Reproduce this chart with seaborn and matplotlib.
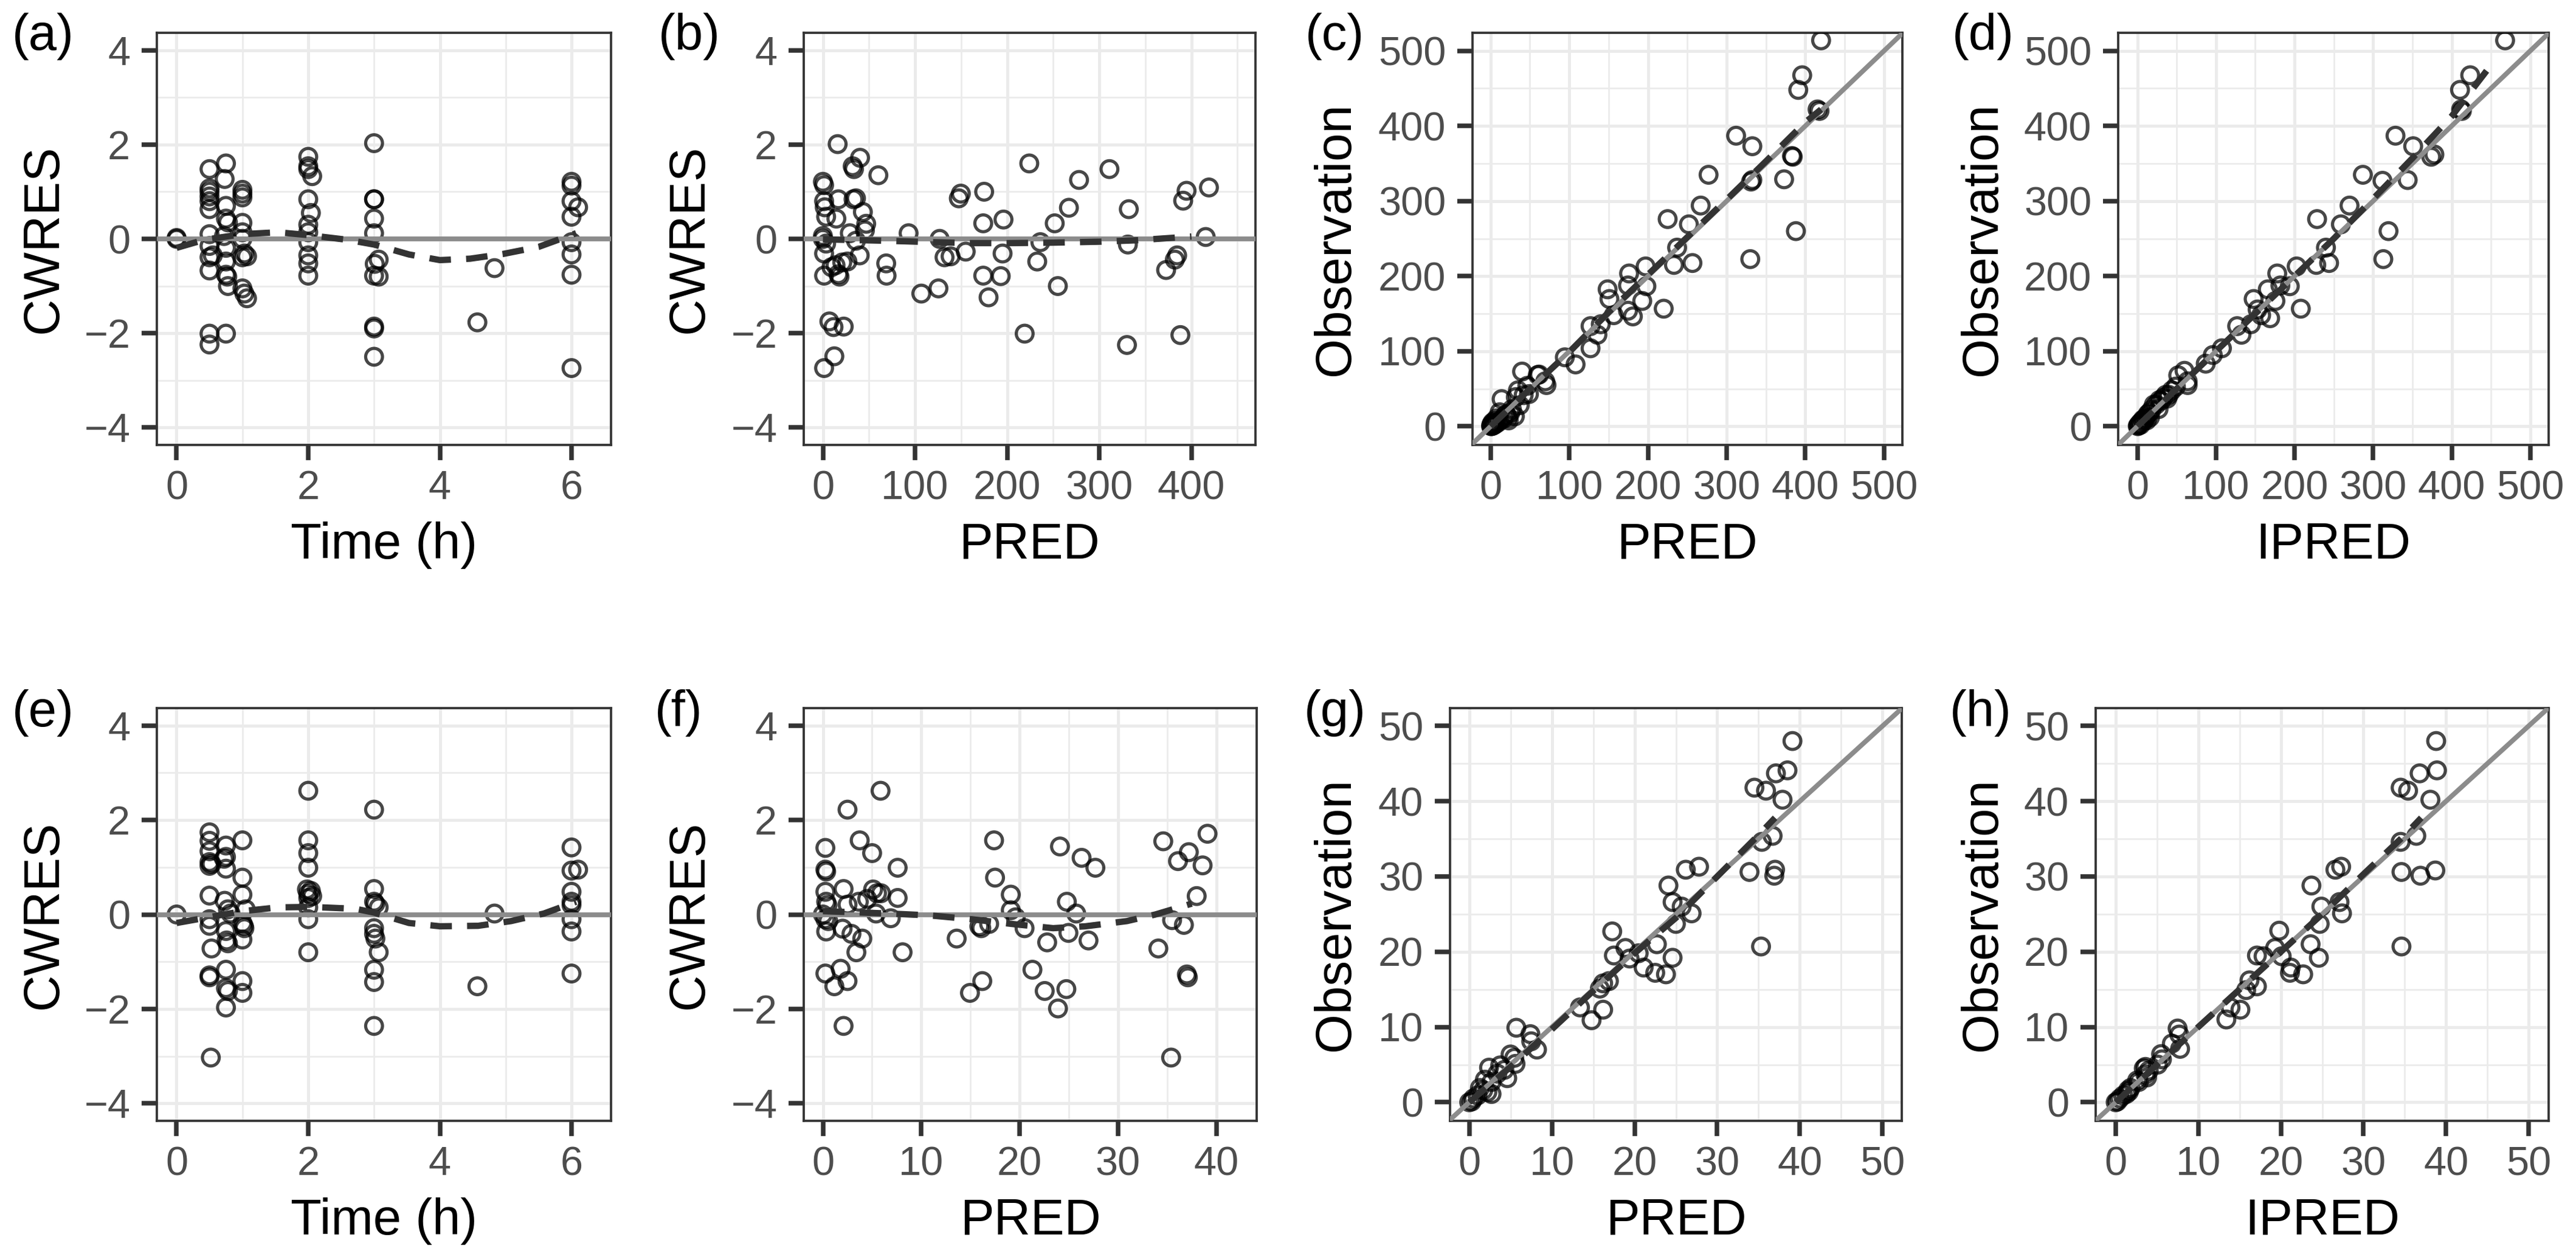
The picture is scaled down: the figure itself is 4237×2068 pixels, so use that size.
import matplotlib
matplotlib.use("Agg")
import matplotlib.pyplot as plt
import seaborn as sns

sns.set_theme(style="white")
plt.rcParams["font.family"] = ["Liberation Sans", "DejaVu Sans"]
plt.rcParams["axes.unicode_minus"] = True

# === DATA: first model (top row) ===
time_a = [0, 0,
          0.5, 0.5, 0.5, 0.5, 0.5, 0.5, 0.5, 0.5, 0.5, 0.55, 0.5, 0.5, 0.5,
          0.75, 0.73, 0.75, 0.75, 0.78, 0.72, 0.75, 0.75, 0.75, 0.77, 0.78, 0.75,
          1.0, 1.0, 1.0, 1.0, 1.0, 1.0, 1.03, 1.07, 1.0, 1.0, 1.03, 1.07,
          2.0, 2.0, 2.0, 2.06, 2.0, 2.04, 2.0, 2.0, 2.0, 2.0, 2.0, 2.0,
          3.0, 3.0, 3.0, 3.0, 3.0, 3.07, 3.01, 3.0, 3.07, 3.0, 3.0, 3.0,
          4.57, 4.83,
          6.0, 6.0, 6.0, 6.1, 6.0, 6.0, 6.0, 6.0, 6.0]
cwres_a = [0, 0.02,
           1.48, 1.07, 1.0, 0.9, 0.8, 0.63, 0.1, -0.15, -0.39, -0.35, -0.67, -2.01, -2.24,
           1.6, 1.27, 0.7, 0.43, 0.35, 0.06, -0.19, -0.48, -0.76, -0.8, -1.0, -2.01,
           1.04, 0.96, 0.88, 0.34, 0.14, 0.0, -0.31, -0.37, -0.39, -1.05, -1.16, -1.26,
           1.74, 1.54, 1.48, 1.33, 0.84, 0.55, 0.3, 0.14, -0.07, -0.35, -0.52, -0.78,
           2.03, 0.84, 0.84, 0.43, 0.12, -0.44, -0.53, -0.78, -0.8, -1.86, -1.9, -2.5,
           -1.77, -0.62,
           1.21, 1.13, 0.8, 0.67, 0.47, -0.07, -0.33, -0.76, -2.74]
smooth_a_x = [0, 0.42, 1, 1.54, 2, 2.6, 3, 3.53, 4, 4.46, 4.96, 5.5, 6.07]
smooth_a_y = [-0.19, -0.02, 0.1, 0.14, 0.08, -0.02, -0.12, -0.33, -0.45, -0.42, -0.32, -0.17, 0.12]

pred_b = [0, 1.3, 1.3, 2, 3.5, 0, 0, 3.5, 1.3, 1.3, 1.3, 7, 11.5, 12.4, 22.6,
          16, 16.8, 14.6, 9.3, 13.7, 18, 16.8, 21, 26.6, 32.3, 33.7, 40.3, 33.2, 35.9,
          43.4, 47, 45.6, 29.2, 35.9, 39.9, 60.2, 68.7, 69.1, 93, 106.8, 125.4, 126.7,
          132, 138.6, 147.5, 149.7, 155, 175, 174, 174, 179.8, 196, 195, 193, 224, 219,
          232.6, 236, 251.6, 255, 267, 278, 311, 332, 331, 330, 372.5, 382, 384.5, 391,
          394.7, 388, 415.5, 419]
cwres_b = [1.21, 1.14, 0.8, 0.67, 0.47, 0.06, 0.0, -0.1, -0.31, -0.78, -2.74, -1.75, -1.87, -2.49, -1.86,
           2.01, 0.84, 0.43, -0.6, -0.56, -0.8, -0.75, -0.5, -0.48, 1.54, 1.48, 1.72, 0.84, 0.86,
           0.57, 0.32, 0.18, 0.12, -0.04, -0.35, 1.35, -0.52, -0.78, 0.12, -1.16, -1.05, 0.0,
           -0.39, -0.37, 0.86, 0.96, -0.27, 1.0, 0.33, -0.78, -1.24, 0.41, -0.31, -0.79, 1.6, -2.01,
           -0.48, -0.07, 0.33, -1.0, 0.66, 1.25, 1.48, 0.63, -0.12, -2.25, -0.66, -0.44, -0.35, 0.81,
           1.02, -2.04, 0.04, 1.09]
smooth_b_x = [0, 70, 120, 160, 200, 250, 300, 340, 400]
smooth_b_y = [-0.01, -0.04, -0.07, -0.09, -0.09, -0.08, -0.06, -0.03, 0.05]

pred_c = [420, 396, 391, 415.5, 418, 312, 332.6, 383, 384, 277, 332.6, 331, 373, 267, 388,
          225, 252, 237, 233, 256.5, 330, 197, 198, 176, 174.6, 192.7, 220, 148.7, 151,
          156.5, 174.6, 180.8, 127, 135.8, 140, 127, 94.3, 108, 61.7, 69.4, 71, 40, 60,
          46.6, 34.7, 42, 48.7, 32, 14, 37, 27, 11.5, 22, 7.7, 23, 30.8, 2.5, 1, 0.5, 2,
          4, 6, 9, 12, 16, 18, 5, 3, 1, 25, 20]
obs_c = [514, 467.5, 448, 422, 420, 387, 373, 360, 359, 335, 328, 326, 329, 294, 260,
         276, 269, 238, 215, 217.5, 222.7, 213, 186.6, 203.6, 187.6, 167, 156.7, 182.5, 169.6,
         148, 154, 146.4, 133.5, 122, 136, 104, 92, 82.5, 69, 60, 55, 73, 68.5,
         54, 48, 41.6, 43, 39, 36.3, 28.2, 22.8, 18.8, 12, 10.7, 8, 13.4, 5.3, 2.7, 0.3, 0.5,
         1.5, 3, 5, 8, 10, 14, 7, 2, 0.5, 18, 16]
smooth_c_x = [0, 50, 100, 150, 200, 250, 300, 350, 400, 420]
smooth_c_y = [0, 50, 99, 152, 202, 252, 302, 353, 405, 422]

ipred_d = [468, 423.6, 410.6, 412, 413, 328.5, 351, 374, 378, 287, 312, 344, 270, 319.6,
           228.7, 259, 240, 227.7, 244, 313, 202.7, 194, 178, 182, 175.7, 208, 166, 148,
           157.5, 169, 153, 127, 132.5, 144.5, 107.6, 96, 87, 60, 52, 64, 64,
           49, 44, 40, 36, 33, 30, 28, 24, 21, 18, 15, 13, 11, 9, 7, 5, 3, 2, 1, 0.5,
           4, 8, 16, 27, 38, 12]
obs_d = [514, 467.5, 448, 422, 420, 387, 373, 359, 362, 335, 327, 328, 294, 260,
         276, 269, 238, 215, 217.5, 222.7, 213, 186.6, 203.6, 187.6, 167, 156.7, 182.5, 169.6,
         148, 144, 155.7, 133.5, 122, 136, 104, 95, 83.5, 74, 68, 60, 55,
         53, 48, 42, 42, 38, 34, 35, 29, 29, 22, 18, 16, 12, 10, 9, 6, 4, 2, 1, 0.3,
         2, 7, 12, 23, 37, 8]
smooth_d_x = [0, 50, 100, 150, 200, 250, 300, 350, 400, 450]
smooth_d_y = [0, 50, 100, 150, 200, 250, 303, 357, 413, 481]

# === DATA: second model (bottom row) ===
time_e = [0,
          0.5, 0.5, 0.5, 0.5, 0.53, 0.5, 0.5, 0.5, 0.5, 0.53, 0.5, 0.5, 0.52,
          0.75, 0.75, 0.72, 0.75, 0.73, 0.78, 0.82, 0.75, 0.76, 0.78, 0.75, 0.75, 0.78, 0.75,
          1.0, 1.0, 1.0, 1.05, 1.0, 1.02, 1.03, 1.0, 1.0, 1.0,
          2.0, 2.0, 2.0, 2.0, 1.98, 2.04, 2.0, 2.0, 2.06, 2.0, 2.0, 2.0,
          3.0, 3.0, 3.0, 3.02, 3.07, 3.0, 3.0, 3.02, 3.07, 3.0, 3.0, 3.0,
          4.57, 4.83,
          6.0, 6.0, 6.1, 6.0, 6.0, 6.0, 6.0, 6.0, 6.0]
cwres_e = [0,
           1.74, 1.56, 1.34, 1.11, 1.07, 1.03, 0.4, -0.1, -0.24, -0.72, -1.29, -1.33, -3.03,
           1.46, 1.22, 1.18, 0.97, 0.29, 0.11, 0.02, -0.35, -0.55, -0.61, -1.17, -1.56, -1.62, -1.97,
           1.57, 0.78, 0.42, 0.11, -0.18, -0.24, -0.29, -0.53, -1.41, -1.66,
           2.62, 1.57, 1.3, 0.99, 0.53, 0.5, 0.44, 0.35, 0.39, 0.15, -0.1, -0.8,
           2.22, 0.54, 0.27, 0.23, 0.15, -0.29, -0.41, -0.51, -0.8, -1.17, -1.43, -2.36,
           -1.52, 0.02,
           1.42, 0.93, 0.95, 0.48, 0.27, 0.2, -0.1, -0.36, -1.25]
smooth_e_x = [0, 0.48, 1, 1.54, 2.04, 2.72, 3, 3.53, 4, 4.58, 5.08, 5.58, 6.07]
smooth_e_y = [-0.18, -0.06, 0.07, 0.15, 0.16, 0.12, 0.04, -0.18, -0.25, -0.24, -0.14, 0.02, 0.27]

pred_f = [0.25, 0.25, 0.33, 0.25, 0.33, 0.46, 0, 0.25, 0.54, 0.33, 0.25, 1.16, 1.8, 2.5, 2.1,
          2.5, 2.1, 2.5, 2.0, 2.9, 4.0, 3.4, 3.65, 4.5, 3.74, 5.0, 5.1, 5.5, 5.9, 5.86, 5.4,
          6.9, 7.6, 7.6, 8.1, 13.6, 14.95, 16.2, 15.9, 16.1, 16.9, 17.4, 17.5, 19.1, 19.1,
          19.6, 20.5, 21.3, 22.55, 22.8, 23.9, 24.1, 24.75, 24.8, 24.96, 25.75, 26.3, 27, 27.7,
          34.1, 34.6, 35.4, 35.5, 36.1, 36.7, 37.0, 37.1, 37.2, 38.0, 38.6, 39.1]
cwres_f = [1.41, 0.95, 0.91, 0.48, 0.27, 0.2, 0.0, -0.1, -0.14, -0.36, -1.25, -1.52, -1.15, -1.41, -2.36,
           2.22, 0.54, 0.21, -0.3, -0.41, -0.51, -0.8, 0.27, 0.33, 1.57, 1.3, 0.53, 0.45, 0.45, 2.62, 0.02,
           -0.08, 0.99, 0.35, -0.8, -0.51, -1.66, -1.41, -0.25, -0.29, -0.2, 1.57, 0.78, 0.42, 0.09,
           -0.06, -0.29, -1.17, -1.62, -0.59, -1.99, 1.44, -1.58, 0.27, -0.39, 0.02, 1.2, -0.55, 0.99,
           -0.72, 1.55, -3.03, -0.12, 1.13, -0.22, -1.27, -1.33, 1.32, 0.39, 1.04, 1.71]
smooth_f_x = [0, 6.8, 10.9, 15.1, 19.2, 23.4, 26.7, 30.9, 33.8, 37.5]
smooth_f_y = [0.07, 0.02, -0.02, -0.1, -0.2, -0.29, -0.25, -0.14, 0.0, 0.23]

pred_g = [39.1, 38.5, 37.1, 34.5, 35.9, 37.9, 36.7, 35.4, 33.9, 37.0, 36.9, 35.3, 26.2, 27.8,
          24.1, 24.6, 25.7, 25.0, 26.9, 22.7, 24.6, 21.1, 22.5, 23.8, 18.9, 19.4, 20.5, 17.3,
          17.5, 16.2, 15.8, 16.9, 16.2, 14.8, 13.4, 5.7, 7.4, 8.2, 7.5, 5.0, 5.45, 2.4, 3.75,
          4.25, 5.6, 4.6, 3.4, 2.7, 1.9, 2.2, 2.7, 1.3, 0.5, 0.0, 0.3, 1.0, 1.7]
obs_g = [48, 44.1, 43.7, 41.8, 41.4, 40.2, 35.4, 34.6, 30.6, 30.9, 30.1, 20.7, 30.9, 31.3,
         28.8, 26.6, 26.0, 23.7, 25.1, 21.0, 19.2, 17.9, 17.2, 17.0, 20.5, 19.1, 19.8, 22.7,
         19.5, 15.8, 15.1, 16.1, 12.3, 10.9, 12.6, 9.9, 9.05, 7.0, 8.1, 6.35, 5.9, 4.6, 4.9,
         4.3, 5.1, 3.2, 3.8, 2.7, 3.0, 1.35, 1.1, 1.9, 0.5, 0.0, 0.1, 0.9, 1.6]
smooth_g_x = [0, 5, 10, 15, 20, 25, 30, 35, 37]
smooth_g_y = [0, 4.7, 9.7, 14.8, 19.8, 24.5, 30, 35.5, 37.8]

ipred_h = [38.8, 38.9, 36.8, 34.5, 35.4, 38.1, 36.4, 34.5, 34.6, 38.7, 36.9, 34.6, 26.6, 27.3,
           23.7, 24.9, 27.1, 27.4, 24.7, 23.6, 24.6, 21.2, 21.1, 22.7, 19.3, 20.1, 19.8, 17.1,
           17.9, 16.2, 15.8, 17.1, 15.1, 13.4, 13.9, 7.5, 7.7, 7.8, 6.8, 5.5, 5.6, 3.6, 3.4,
           4.0, 5.1, 3.8, 3.6, 2.8, 2.6, 1.6, 1.3, 1.8, 0.5, 0.0, 0.2, 0.9, 1.5]
obs_h = [48, 44.1, 43.7, 41.8, 41.4, 40.2, 35.4, 34.6, 30.6, 30.8, 30.1, 20.7, 30.9, 31.3,
         28.8, 26.0, 26.6, 25.1, 23.7, 21.0, 19.2, 17.9, 17.2, 17.0, 20.5, 19.4, 22.8, 19.5,
         19.4, 16.2, 14.9, 15.4, 12.3, 11.0, 12.6, 9.8, 9.0, 7.1, 7.8, 6.4, 5.7, 4.7, 4.5,
         4.2, 5.0, 3.3, 3.7, 2.7, 2.9, 1.4, 1.1, 1.9, 0.5, 0.0, 0.1, 0.9, 1.6]
smooth_h_x = [0, 5, 10, 15, 20, 25, 30, 35, 37]
smooth_h_y = [0, 5, 10, 15, 20, 25, 30.3, 35.5, 37.8]

# === STYLE ===
W, H = 4237, 2068
GRID = "#EBEBEB"
DARK = "#333333"
TICKTXT = "#4D4D4D"
REFGREY = "#8C8C8C"


def px_rect(left, right, top, bottom):
    return [left / W, 1 - bottom / H, (right - left) / W, (bottom - top) / H]


def draw_panel(ax, x, y, sx, sy, xlim, ylim, xticks, yticks, xminor, yminor,
               xlabel, ylabel, identity, tag, tag_xy):
    ax.set_xlim(xlim)
    ax.set_ylim(ylim)
    ax.set_xticks(xticks)
    ax.set_yticks(yticks)
    ax.set_xticks(xminor, minor=True)
    ax.set_yticks(yminor, minor=True)
    ax.set_axisbelow(True)
    ax.grid(which="major", color=GRID, lw=1.2)
    ax.grid(which="minor", color=GRID, lw=0.65)

    sns.scatterplot(x=x, y=y, ax=ax, marker="o", s=44, facecolors="none",
                    edgecolor="black", linewidth=1.25, alpha=0.72, zorder=3)
    if identity:
        ax.axline((0, 0), slope=1, color=REFGREY, lw=1.9, zorder=4)
    else:
        ax.axhline(0, color=REFGREY, lw=1.9, zorder=4)
    sns.lineplot(x=sx, y=sy, ax=ax, color=DARK, lw=2.5,
                 linestyle=(0, (3.4, 2.4)), zorder=5)

    for sp in ax.spines.values():
        sp.set_color(DARK)
        sp.set_linewidth(0.9)
    ax.tick_params(which="major", length=6, width=1.8, color=DARK,
                   labelsize=16, labelcolor=TICKTXT)
    ax.tick_params(axis="x", which="major", pad=3.9)
    ax.tick_params(axis="y", which="major", pad=4.5)
    ax.tick_params(which="minor", length=0)
    ax.tick_params(left=True, bottom=True)

    ax.set_xlabel(xlabel, fontsize=20, color="black")
    ax.set_ylabel(ylabel, fontsize=20, color="black")
    ax.xaxis.set_label_coords(0.5, -0.243)
    ax.xaxis.label.set_verticalalignment("center")
    ax.figure.text(tag_xy[0], tag_xy[1], tag, fontsize=20,
                   ha="left", va="center", color="black")


fig = plt.figure(figsize=(W / 300, H / 300), dpi=300)

res_ticks = [-4, -2, 0, 2, 4]
res_minor = [-3, -1, 1, 3]
res_lim = (-4.37, 4.37)

ax_a = fig.add_axes(px_rect(258, 1005, 54, 732))
draw_panel(ax_a, time_a, cwres_a, smooth_a_x, smooth_a_y, (-0.3, 6.6), res_lim,
           [0, 2, 4, 6], res_ticks, [1, 3, 5], res_minor,
           "Time (h)", "CWRES", False, "(a)", (20 / W, 1 - 60 / H))
ax_a.yaxis.set_label_coords(-0.249, 0.5)

ax_b = fig.add_axes(px_rect(1322, 2065, 54, 732))
draw_panel(ax_b, pred_b, cwres_b, smooth_b_x, smooth_b_y, (-20.8, 469.5), res_lim,
           [0, 100, 200, 300, 400], res_ticks, [50, 150, 250, 350, 450], res_minor,
           "PRED", "CWRES", False, "(b)", (1083 / W, 1 - 60 / H))
ax_b.yaxis.set_label_coords(-0.253, 0.5)

big_ticks = [0, 100, 200, 300, 400, 500]
big_minor = [50, 150, 250, 350, 450]
ax_c = fig.add_axes(px_rect(2422, 3129, 54, 732))
draw_panel(ax_c, pred_c, obs_c, smooth_c_x, smooth_c_y, (-23, 523.3), (-24.7, 524),
           big_ticks, big_ticks, big_minor, big_minor,
           "PRED", "Observation", True, "(c)", (2147 / W, 1 - 60 / H))
ax_c.yaxis.set_label_coords(-0.318, 0.5)

ax_d = fig.add_axes(px_rect(3484, 4192, 54, 732))
draw_panel(ax_d, ipred_d, obs_d, smooth_d_x, smooth_d_y, (-24.4, 523.4), (-24.7, 524),
           big_ticks, big_ticks, big_minor, big_minor,
           "IPRED", "Observation", True, "(d)", (3211 / W, 1 - 60 / H))
ax_d.yaxis.set_label_coords(-0.315, 0.5)

ax_e = fig.add_axes(px_rect(258, 1005, 1165, 1844))
draw_panel(ax_e, time_e, cwres_e, smooth_e_x, smooth_e_y, (-0.3, 6.6), res_lim,
           [0, 2, 4, 6], res_ticks, [1, 3, 5], res_minor,
           "Time (h)", "CWRES", False, "(e)", (20 / W, 1 - 1173 / H))
ax_e.yaxis.set_label_coords(-0.249, 0.5)

ax_f = fig.add_axes(px_rect(1322, 2067, 1165, 1844))
draw_panel(ax_f, pred_f, cwres_f, smooth_f_x, smooth_f_y, (-1.95, 44.1), res_lim,
           [0, 10, 20, 30, 40], res_ticks, [5, 15, 25, 35], res_minor,
           "PRED", "CWRES", False, "(f)", (1077 / W, 1 - 1173 / H))
ax_f.yaxis.set_label_coords(-0.253, 0.5)

small_ticks = [0, 10, 20, 30, 40, 50]
small_minor = [5, 15, 25, 35, 45]
ax_g = fig.add_axes(px_rect(2385, 3128, 1165, 1844))
draw_panel(ax_g, pred_g, obs_g, smooth_g_x, smooth_g_y, (-2.32, 52.32), (-2.47, 52.37),
           small_ticks, small_ticks, small_minor, small_minor,
           "PRED", "Observation", True, "(g)", (2145 / W, 1 - 1173 / H))
ax_g.yaxis.set_label_coords(-0.253, 0.5)

ax_h = fig.add_axes(px_rect(3447, 4192, 1165, 1844))
draw_panel(ax_h, ipred_h, obs_h, smooth_h_x, smooth_h_y, (-2.42, 52.42), (-2.47, 52.37),
           small_ticks, small_ticks, small_minor, small_minor,
           "IPRED", "Observation", True, "(h)", (3207 / W, 1 - 1173 / H))
ax_h.yaxis.set_label_coords(-0.25, 0.5)

for ax in fig.axes:
    ax.yaxis.label.set_verticalalignment("center")

fig.savefig("out.png", dpi=300, facecolor="white")
